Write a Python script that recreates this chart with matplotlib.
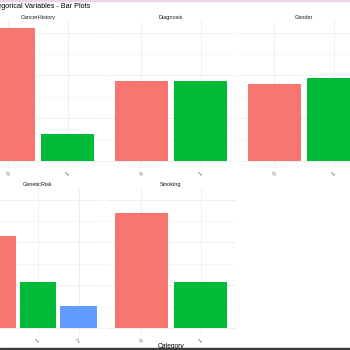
import matplotlib
matplotlib.use("Agg")
import matplotlib.pyplot as plt
from matplotlib.patches import Rectangle

plt.rcParams['font.family'] = ['Liberation Sans', 'DejaVu Sans']

# counts per category
variables = ["CancerHistory", "Diagnosis", "Gender", "GeneticRisk", "Smoking"]
cancer_history = [1245, 255]
diagnosis = [750, 750]
gender = [720, 780]
genetic_risk = [860, 430, 210]
smoking = [1070, 430]
categories = [["0", "1"], ["0", "1"], ["0", "1"], ["0", "1", "2"], ["0", "1"]]
counts = [cancer_history, diagnosis, gender, genetic_risk, smoking]

fill_colors = {"0": "#F8766D", "1": "#00BA38", "2": "#619CFF"}
grid_color = "#EFEFEF"

W, H = 350, 350
fig = plt.figure(figsize=(3.5, 3.5), dpi=100)
fig.patch.set_facecolor("white")


def px_axes(left, top, width, height):
    return fig.add_axes([left / W, 1 - (top + height) / H, width / W, height / H])


col_lefts = [-27, 106, 239]
row_tops = [21, 188]
panel_w, panel_h = 130, 147

ymax = max(max(c) for c in counts)

for i, name in enumerate(variables):
    row, col = divmod(i, 3)
    ax = px_axes(col_lefts[col], row_tops[row], panel_w, panel_h)
    cats = categories[i]
    vals = counts[i]
    x = list(range(len(cats)))
    ax.bar(x, vals, width=0.9, color=[fill_colors[c] for c in cats], zorder=2)
    ax.set_xlim(-0.6, len(cats) - 1 + 0.6)
    ax.set_ylim(-0.05 * ymax, 1.05 * ymax)
    ax.set_yticks([0, 400, 800, 1200])
    ax.set_yticks([200, 600, 1000], minor=True)
    ax.set_yticklabels([])
    ax.set_xticks(x)
    ax.set_xticklabels(cats, rotation=45, ha="center", va="top",
                       fontsize=3.9, color="#595959")
    ax.tick_params(axis="both", which="both", length=0, pad=2)
    ax.grid(True, which="major", color=grid_color, linewidth=0.7, zorder=0)
    ax.grid(True, which="minor", axis="y", color=grid_color, linewidth=0.4, zorder=0)
    ax.set_axisbelow(True)
    for s in ax.spines.values():
        s.set_visible(False)
    ax.text(0.5, 1 + 3.8 / panel_h, name, transform=ax.transAxes,
            ha="center", va="center", fontsize=4.0, color="#1A1A1A")

fig.text(90 / W, 1 - 6.5 / H, "Categorical Variables - Bar Plots",
         ha="right", va="center", fontsize=5.2, color="black")
fig.text(171 / W, 1 - 347 / H, "Category", ha="center", va="center",
         fontsize=4.8, color="black")

# screenshot edges
fig.add_artist(Rectangle((0, 0), 1, 2 / H, transform=fig.transFigure,
                         color="#3C3C3C", zorder=10))
fig.add_artist(Rectangle((0, 1 - 1.2 / H), 1, 1.2 / H, transform=fig.transFigure,
                         color="#EBD3EB", zorder=10))

fig.savefig("out.png", dpi=100)
